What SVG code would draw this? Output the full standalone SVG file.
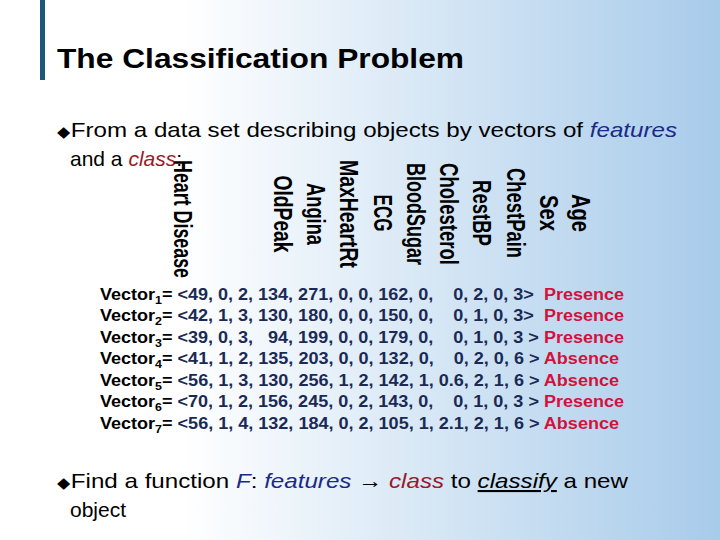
<svg xmlns="http://www.w3.org/2000/svg" width="720" height="540" viewBox="0 0 720 540">
<defs>
<linearGradient id="bg" x1="0" y1="0" x2="1" y2="0">
<stop offset="0" stop-color="#ffffff"/><stop offset="0.25" stop-color="#ffffff"/><stop offset="1" stop-color="#a8cbea"/>
</linearGradient>
<style>
.t{font-family:"Liberation Sans",Arial,sans-serif}
.h{font-family:"Liberation Sans",Arial,sans-serif;font-weight:bold;font-size:25px;fill:#000}
.v{font-family:"Liberation Sans",Arial,sans-serif;font-weight:bold;font-size:16px;fill:#1a2a55;white-space:pre}
.k{fill:#000}.r{fill:#d3123c}
</style>
</defs>
<rect width="720" height="540" fill="url(#bg)"/>
<rect x="40" y="0" width="5" height="80" fill="#1d5878"/>
<text class="t" x="57" y="68" font-size="28" font-weight="bold" textLength="407" lengthAdjust="spacingAndGlyphs">The Classification Problem</text>
<text class="t" x="57" y="137" font-size="21" textLength="620" lengthAdjust="spacingAndGlyphs"><tspan font-size="15">◆</tspan>From a data set describing objects by vectors of <tspan font-style="italic" fill="#1a2a8a">features</tspan></text>
<text class="t" x="70" y="166" font-size="21">and a <tspan font-style="italic" fill="#9a1a2a">class</tspan>:</text>
<g id="headers">
<text class="h" transform="translate(572,213) rotate(90)" text-anchor="middle" textLength="38" lengthAdjust="spacingAndGlyphs">Age</text>
<text class="h" transform="translate(540,213) rotate(90)" text-anchor="middle" textLength="36" lengthAdjust="spacingAndGlyphs">Sex</text>
<text class="h" transform="translate(507,213) rotate(90)" text-anchor="middle" textLength="90" lengthAdjust="spacingAndGlyphs">ChestPain</text>
<text class="h" transform="translate(473,213) rotate(90)" text-anchor="middle" textLength="66" lengthAdjust="spacingAndGlyphs">RestBP</text>
<text class="h" transform="translate(440,214) rotate(90)" text-anchor="middle" textLength="102" lengthAdjust="spacingAndGlyphs">Cholesterol</text>
<text class="h" transform="translate(407,214) rotate(90)" text-anchor="middle" textLength="102" lengthAdjust="spacingAndGlyphs">BloodSugar</text>
<text class="h" transform="translate(374,213) rotate(90)" text-anchor="middle" textLength="37" lengthAdjust="spacingAndGlyphs">ECG</text>
<text class="h" transform="translate(340,214) rotate(90)" text-anchor="middle" textLength="108" lengthAdjust="spacingAndGlyphs">MaxHeartRt</text>
<text class="h" transform="translate(307,214) rotate(90)" text-anchor="middle" textLength="62" lengthAdjust="spacingAndGlyphs">Angina</text>
<text class="h" transform="translate(274,214) rotate(90)" text-anchor="middle" textLength="77" lengthAdjust="spacingAndGlyphs">OldPeak</text>
<text class="h" transform="translate(174,160) rotate(90)" textLength="118" lengthAdjust="spacingAndGlyphs">Heart Disease</text>
</g>
<g id="vectors" xml:space="preserve">
<text class="v" x="100" y="300" textLength="524" lengthAdjust="spacingAndGlyphs"><tspan class="k">Vector<tspan font-size="11" dy="4">1</tspan><tspan dy="-4">=</tspan></tspan> &lt;49, 0, 2, 134, 271, 0, 0, 162, 0,    0, 2, 0, 3&gt;  <tspan class="r">Presence</tspan></text>
<text class="v" x="100" y="321" textLength="524" lengthAdjust="spacingAndGlyphs"><tspan class="k">Vector<tspan font-size="11" dy="4">2</tspan><tspan dy="-4">=</tspan></tspan> &lt;42, 1, 3, 130, 180, 0, 0, 150, 0,    0, 1, 0, 3&gt;  <tspan class="r">Presence</tspan></text>
<text class="v" x="100" y="343" textLength="524" lengthAdjust="spacingAndGlyphs"><tspan class="k">Vector<tspan font-size="11" dy="4">3</tspan><tspan dy="-4">=</tspan></tspan> &lt;39, 0, 3,   94, 199, 0, 0, 179, 0,    0, 1, 0, 3 &gt; <tspan class="r">Presence</tspan></text>
<text class="v" x="100" y="364" textLength="519" lengthAdjust="spacingAndGlyphs"><tspan class="k">Vector<tspan font-size="11" dy="4">4</tspan><tspan dy="-4">=</tspan></tspan> &lt;41, 1, 2, 135, 203, 0, 0, 132, 0,    0, 2, 0, 6 &gt; <tspan class="r">Absence</tspan></text>
<text class="v" x="100" y="386" textLength="519" lengthAdjust="spacingAndGlyphs"><tspan class="k">Vector<tspan font-size="11" dy="4">5</tspan><tspan dy="-4">=</tspan></tspan> &lt;56, 1, 3, 130, 256, 1, 2, 142, 1, 0.6, 2, 1, 6 &gt; <tspan class="r">Absence</tspan></text>
<text class="v" x="100" y="407" textLength="524" lengthAdjust="spacingAndGlyphs"><tspan class="k">Vector<tspan font-size="11" dy="4">6</tspan><tspan dy="-4">=</tspan></tspan> &lt;70, 1, 2, 156, 245, 0, 2, 143, 0,    0, 1, 0, 3 &gt; <tspan class="r">Presence</tspan></text>
<text class="v" x="100" y="429" textLength="519" lengthAdjust="spacingAndGlyphs"><tspan class="k">Vector<tspan font-size="11" dy="4">7</tspan><tspan dy="-4">=</tspan></tspan> &lt;56, 1, 4, 132, 184, 0, 2, 105, 1, 2.1, 2, 1, 6 &gt; <tspan class="r">Absence</tspan></text>
</g>
<text class="t" x="57" y="488" font-size="21" textLength="571" lengthAdjust="spacingAndGlyphs"><tspan font-size="15">◆</tspan>Find a function <tspan font-style="italic" fill="#1a2a8a">F</tspan>: <tspan font-style="italic" fill="#1a2a8a">features</tspan> → <tspan font-style="italic" fill="#9a1a2a">class</tspan> to <tspan font-style="italic" text-decoration="underline">classify</tspan> a new</text>
<text class="t" x="70" y="517" font-size="21">object</text>
</svg>
